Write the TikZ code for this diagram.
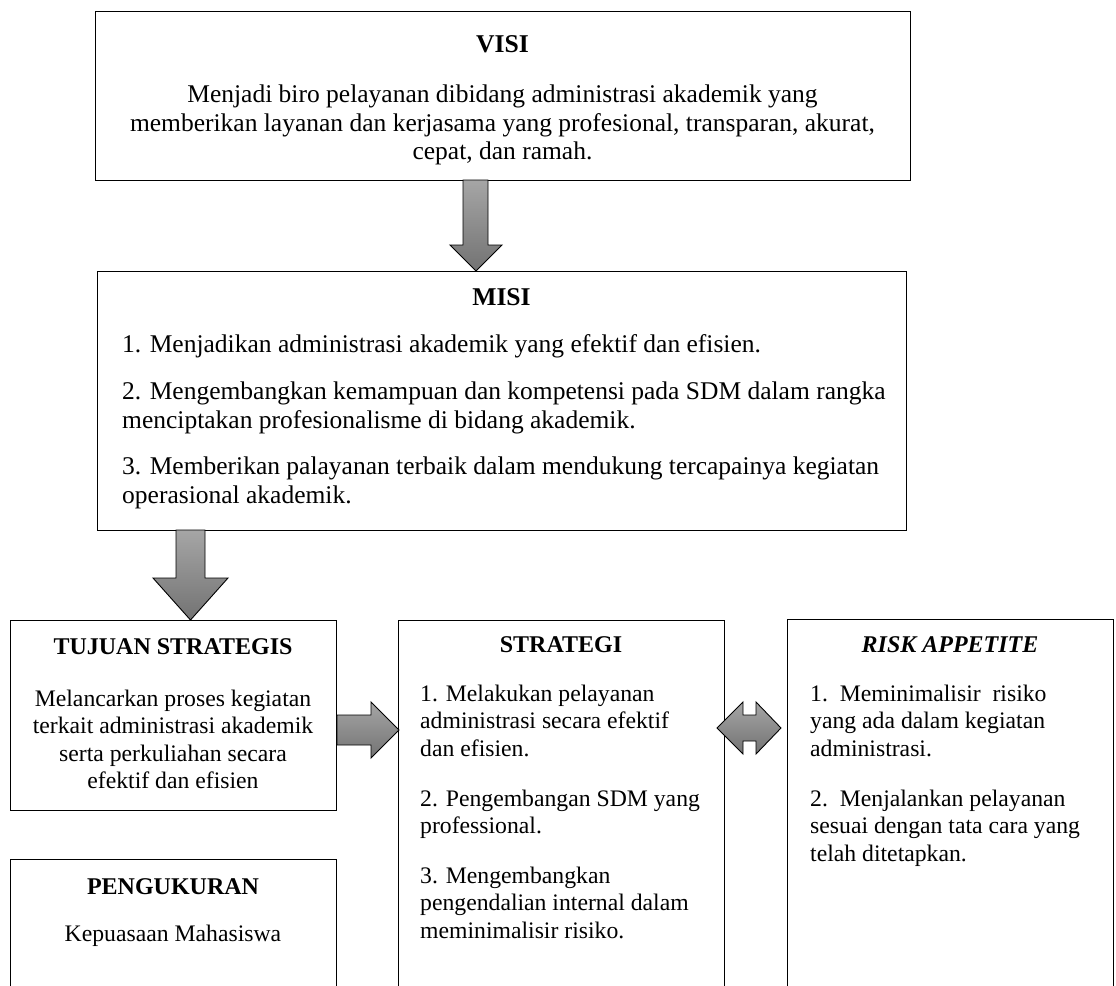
\documentclass[tikz,border=0pt]{standalone}
\usepackage{fontspec}
\setmainfont{Liberation Serif}
\usetikzlibrary{positioning,calc}
\tikzset{
  box/.style={rectangle, draw=black, line width=1.3pt, anchor=north west, inner sep=0pt},
  headtext/.style={font=\fontsize{24}{27.3}\selectfont\bfseries, inner sep=0pt},
  bighead/.style={font=\fontsize{25.6}{28.5}\selectfont\bfseries, inner sep=0pt},
  bodytext/.style={font=\fontsize{23.7}{27.3}\selectfont, inner sep=0pt, align=left, anchor=north west},
  centertext/.style={bodytext, align=center, anchor=north},
  bigtext/.style={font=\fontsize{25.5}{28.5}\selectfont},
  fatarrow/.style={draw=black, line width=0.9pt, top color=black!35, bottom color=black!55, line join=miter},
}

\begin{document}
\begin{tikzpicture}[x=1pt,y=-1pt]
\useasboundingbox (0,0) rectangle (1116,985);
\clip (0,0) rectangle (1116,985);

% visi
\node[box, minimum width=815, minimum height=169] (visi) at (95,11) {};
\node[bighead] (visihead) at (502.5,44) {VISI};
\node[centertext, bigtext] (visibody) at (502.5,85) {Menjadi biro pelayanan dibidang administrasi akademik yang\\
  memberikan layanan dan kerjasama yang profesional, transparan, akurat,\\
  cepat, dan ramah.};

% misi
\node[box, minimum width=809, minimum height=259] (misi) at (97,271) {};
\node[bighead] (misihead) at (501.5,297) {MISI};
\node[bodytext, bigtext] (misi1) at (122,334) {1. Menjadikan administrasi akademik yang efektif dan efisien.};
\node[bodytext, bigtext] (misi2) at (122,382) {2. Mengembangkan kemampuan dan kompetensi pada SDM dalam rangka\\
  menciptakan profesionalisme di bidang akademik.};
\node[bodytext, bigtext] (misi3) at (122,457) {3. Memberikan palayanan terbaik dalam mendukung tercapainya kegiatan\\
  operasional akademik.};

% tujuan strategis
\node[box, minimum width=326, minimum height=190] (tujuan) at (10,620) {};
\node[headtext] (tujuanhead) at (173,647) {TUJUAN STRATEGIS};
\node[centertext] (tujuanbody) at (173,690) {Melancarkan proses kegiatan\\
  terkait administrasi akademik\\ serta perkuliahan secara\\ efektif dan efisien};

% pengukuran
\node[box, minimum width=326, minimum height=200] (ukur) at (10,859) {};
\node[headtext] (ukurhead) at (173,887) {PENGUKURAN};
\node[centertext] (ukurbody) at (173,925) {Kepuasaan Mahasiswa};

% strategi
\node[box, minimum width=326, minimum height=400] (strategi) at (398,620) {};
\node[headtext] (strategihead) at (561,645) {STRATEGI};
\node[bodytext] (strategi1) at (420,685) {1. Melakukan pelayanan\\ administrasi secara efektif\\ dan efisien.};
\node[bodytext] (strategi2) at (420,790) {2. Pengembangan SDM yang\\ professional.};
\node[bodytext] (strategi3) at (420,867) {3. Mengembangkan\\ pengendalian internal dalam\\ meminimalisir risiko.};

% risk appetite
\node[box, minimum width=326, minimum height=400] (risk) at (787,619) {};
\node[headtext] (riskhead) at (950,645) {\itshape RISK APPETITE};
\node[bodytext] (risk1) at (810,685) {1.\ \ Meminimalisir\ \ risiko\\ yang ada dalam kegiatan\\ administrasi.};
\node[bodytext] (risk2) at (810,790) {2.\ \ Menjalankan pelayanan\\ sesuai dengan tata cara yang\\ telah ditetapkan.};

% block arrows
\draw[fatarrow] (463,180) -- (488,180) -- (488,245) -- (502,245) -- (476,271) -- (450,245) -- (463,245) -- cycle;
\draw[fatarrow] (176,530) -- (205,530) -- (205,578) -- (228,578) -- (190.5,620) -- (153,578) -- (176,578) -- cycle;
\draw[fatarrow] (337,715) -- (371,715) -- (371,702) -- (399,730) -- (371,758) -- (371,745) -- (337,745) -- cycle;
\draw[fatarrow] (717,728) -- (743,702) -- (743,715) -- (756,715) -- (756,702) -- (781,728) -- (756,754)
  -- (756,741) -- (743,741) -- (743,754) -- cycle;
\end{tikzpicture}
\end{document}
